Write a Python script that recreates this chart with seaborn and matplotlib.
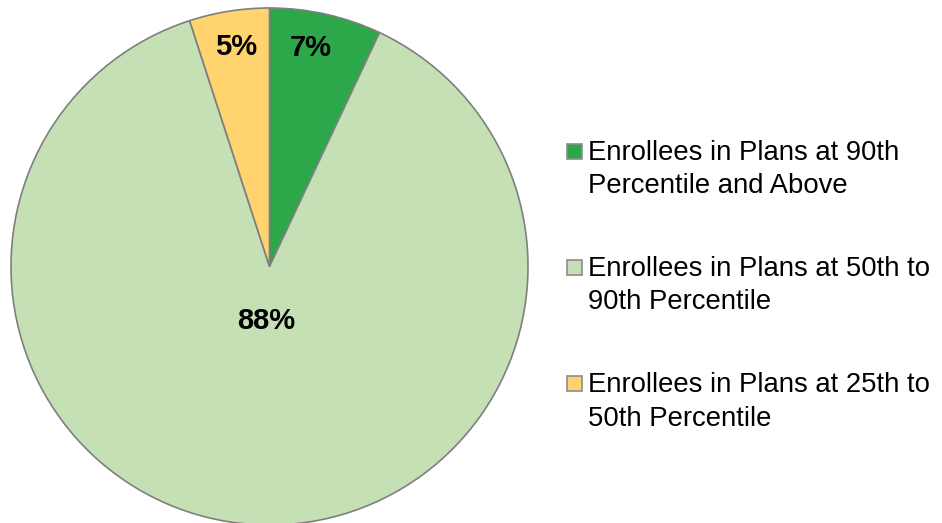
import matplotlib
matplotlib.use("Agg")
import matplotlib.pyplot as plt
import seaborn as sns
import numpy as np
from matplotlib.patches import Rectangle

sns.set_theme(style="white")
plt.rcParams['font.family'] = ['Liberation Sans', 'DejaVu Sans']

categories = ["Enrollees in Plans at 90th\nPercentile and Above",
              "Enrollees in Plans at 50th to\n90th Percentile",
              "Enrollees in Plans at 25th to\n50th Percentile"]
values = [7, 88, 5]
pct_labels = ["7%", "88%", "5%"]
colors = ["#2CA84A", "#C5E0B4", "#FFD46F"]

W, H = 942, 523
fig = plt.figure(figsize=(W / 100, H / 100), dpi=100)
ax = fig.add_axes([0, 0, 1, 1])

cx, cy, R = 269.5, 266.5, 258.5
wedges, _ = ax.pie(values, colors=colors, startangle=90, counterclock=False,
                   radius=1.0,
                   wedgeprops=dict(edgecolor="#7F7F7F", linewidth=1.2))
ax.set_xlim(-cx / R, (W - cx) / R)
ax.set_ylim(-(H - cy) / R, cy / R)
ax.set_aspect("equal")
ax.axis("off")

label_r = [0.86, 0.21, 0.86]
label_shift = [2.0, 0.0, -0.3]
for w, lab, r, s in zip(wedges, pct_labels, label_r, label_shift):
    mid = np.deg2rad((w.theta1 + w.theta2) / 2 + s)
    ax.text(r * np.cos(mid), r * np.sin(mid), lab, ha="center", va="center",
            fontsize=21, fontweight="bold", color="black")

# legend drawn manually to match the reference layout
sq_x, sq_w = 567, 15
text_x = 588
first_sq_center = [151, 267, 383.5]
for cat, col, yc in zip(categories, colors, first_sq_center):
    fig.patches.append(Rectangle((sq_x / W, 1 - (yc + sq_w / 2) / H), sq_w / W, sq_w / H,
                                 transform=fig.transFigure, facecolor=col,
                                 edgecolor="#8C8C8C", linewidth=1.2))
    for i, line in enumerate(cat.split("\n")):
        base = yc + 9 + i * 33
        fig.text(text_x / W, 1 - base / H, line, ha="left", va="baseline",
                 fontsize=19.8, color="black")

fig.savefig("out.png", dpi=100)
